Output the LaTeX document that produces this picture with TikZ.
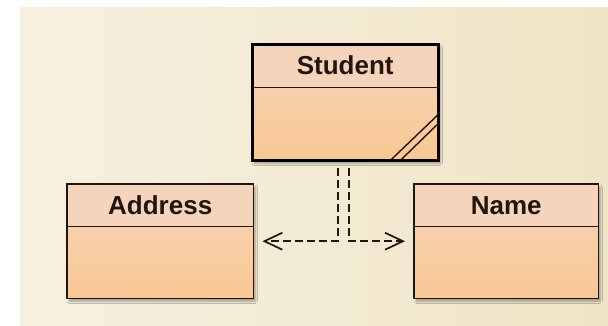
\documentclass[tikz,border=0pt]{standalone}
\usepackage{fontspec}
\setmainfont{Liberation Sans}
\usetikzlibrary{arrows.meta,shadows.blur,calc}
\definecolor{bgl}{HTML}{F6F0E1}
\definecolor{bgr}{HTML}{EFE5C5}
\definecolor{headc}{HTML}{F4D5BC}
\definecolor{bodyt}{HTML}{F6D5B8}
\definecolor{bodyb}{HTML}{F8C894}
\definecolor{edge}{HTML}{22140F}
\begin{document}
\begin{tikzpicture}[x=1pt,y=1pt,
  ent/.style={rectangle, anchor=north west, inner sep=0pt, minimum width=186pt,
    top color=bodyt, bottom color=bodyb,
    blur shadow={shadow xshift=2pt, shadow yshift=-3pt, shadow opacity=35, shadow blur steps=6}},
  head/.style={rectangle, anchor=north west, inner sep=0pt, minimum width=186pt,
    minimum height=42pt, fill=headc, text=edge,
    font=\bfseries\fontsize{26}{30}\selectfont},
  frame/.style={draw=edge, line width=1.6pt},
  bigframe/.style={draw=black, line width=3pt},
  conn/.style={draw=edge, line width=1.7pt, dash pattern=on 8pt off 4pt,
    -{Straight Barb[length=18pt,width=17pt,line width=1.7pt]}, shorten >=9pt}
]
\useasboundingbox (0,0) rectangle (608,325);
\fill[white] (0,0) rectangle (608,325);
\shade[left color=bgl, right color=bgr] (20,0) rectangle (608,318);

% Student
\node[ent, minimum height=116pt] (student) at (252,281) {};
\node[head, minimum height=43pt] (studenthead) at (student.north west) {Student};
\draw[frame] (studenthead.south west) -- (studenthead.south east);
\begin{scope}
  \clip (student.north west) rectangle (student.south east);
  \draw[edge, line width=1.4pt] ($(student.south east)+(-48,0)$) -- ($(student.south east)+(0,46)$);
  \draw[edge, line width=1.4pt] ($(student.south east)+(-38,0)$) -- ($(student.south east)+(0,37)$);
\end{scope}
\draw[bigframe] (student.north west) rectangle (student.south east);

% Address
\node[ent, minimum height=114pt] (address) at (67,141) {};
\node[head] (addresshead) at (address.north west) {Address};
\draw[frame] (addresshead.south west) -- (addresshead.south east);
\draw[frame] (address.north west) rectangle (address.south east);

% Name
\node[ent, minimum height=114pt, minimum width=184pt] (name) at (414,141) {};
\node[head, minimum width=184pt] (namehead) at (name.north west) {Name};
\draw[frame] (namehead.south west) -- (namehead.south east);
\draw[frame] (name.north west) rectangle (name.south east);

% connectors
\coordinate (s1) at ($(student.south)+(-7,-8)$);
\coordinate (s2) at ($(student.south)+(4,-8)$);
\draw[conn] (s1) |- (address.east);
\draw[conn] (s2) |- (name.west);
\end{tikzpicture}
\end{document}
